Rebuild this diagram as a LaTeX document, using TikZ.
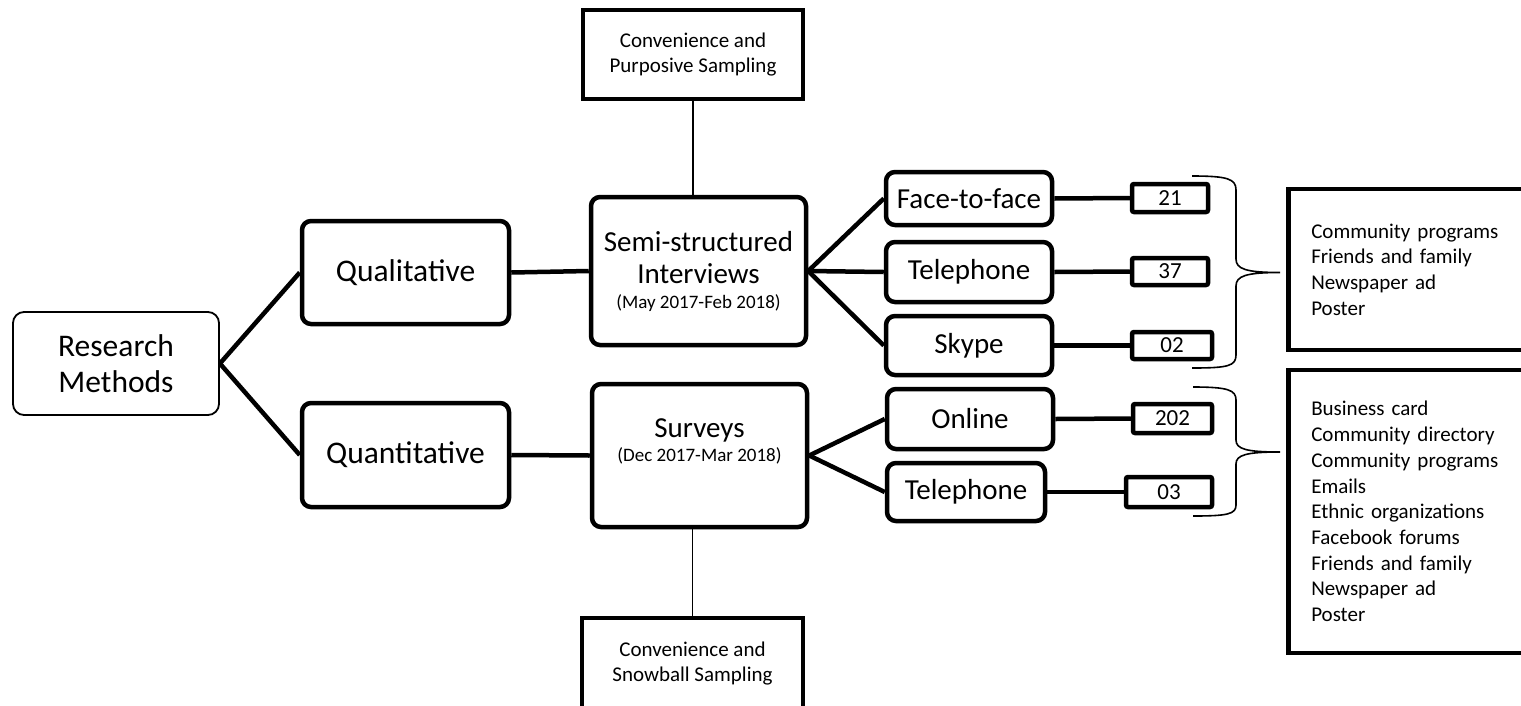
\documentclass[tikz,border=0pt]{standalone}
\usepackage{fontspec}
\setmainfont{Carlito}

\tikzset{
  mainbox/.style={draw, line width=4.5pt, rounded corners=9pt, inner sep=0pt, align=center},
  topbox/.style={draw, line width=1.8pt, rounded corners=11pt, inner sep=0pt, align=center},
  numbox/.style={draw, line width=4.5pt, rounded corners=2pt, inner sep=0pt, font=\fontsize{23}{26}\selectfont},
  sampbox/.style={draw, line width=4.5pt, inner sep=0pt, align=center, font=\fontsize{21}{25}\selectfont},
  srcbox/.style={draw, line width=4.5pt, anchor=west, inner xsep=23pt, inner ysep=0pt, text width=250pt, align=left, font=\fontsize{21}{25.7}\selectfont},
  link/.style={line width=4.5pt},
  thinlink/.style={line width=1.8pt},
  brace/.style={line width=1.6pt}
}

\begin{document}
\begin{tikzpicture}[x=1pt, y=-1pt]
  \useasboundingbox (0,0) rectangle (1521,705);
  \clip (0,0) rectangle (1521,705);

  \node[topbox, minimum width=206pt, minimum height=103pt, font=\fontsize{31.5}{36}\selectfont] (rm) at (116,363.5) {Research\\Methods};
  \node[mainbox, minimum width=207pt, minimum height=103pt, font=\fontsize{31.5}{36}\selectfont] (qual) at (405.5,272.5) {Qualitative};
  \node[mainbox, minimum width=207pt, minimum height=104pt, font=\fontsize{31.5}{36}\selectfont] (quant) at (405.5,455) {Quantitative};

  \node[mainbox, minimum width=215pt, minimum height=148pt, font=\fontsize{29}{32}\selectfont] (semi) at (698.5,271) {Semi-structured\\Interviews\\[-7pt]{\fontsize{19}{22}\selectfont (May 2017-Feb 2018)}};
  \node[mainbox, minimum width=215pt, minimum height=143pt, text depth=31pt, font=\fontsize{29}{32}\selectfont] (surv) at (699.5,455.5) {Surveys\\[-8pt]{\fontsize{19}{22}\selectfont (Dec 2017-Mar 2018)}};

  \node[sampbox, minimum width=220pt, minimum height=89pt] (purp) at (693,54.5) {Convenience and\\Purposive Sampling};
  \node[sampbox, minimum width=221pt, minimum height=92pt] (snow) at (692.5,664) {Convenience and\\Snowball Sampling};

  \node[mainbox, minimum width=166pt, minimum height=53pt, font=\fontsize{29}{32}\selectfont] (f2f) at (969,198.5) {Face-to-face};
  \node[mainbox, minimum width=166pt, minimum height=60pt, font=\fontsize{29}{32}\selectfont] (tel1) at (969,272) {Telephone};
  \node[mainbox, minimum width=166pt, minimum height=59pt, font=\fontsize{29}{32}\selectfont] (sky) at (969,345.5) {Skype};
  \node[mainbox, minimum width=166pt, minimum height=60pt, font=\fontsize{29}{32}\selectfont] (onl) at (970,419) {Online};
  \node[mainbox, minimum width=158pt, minimum height=58pt, font=\fontsize{29}{32}\selectfont] (tel2) at (966,492) {Telephone};

  \node[numbox, minimum width=76pt, minimum height=28pt] (n21) at (1170,198) {21};
  \node[numbox, minimum width=76pt, minimum height=27pt] (n37) at (1170,271.5) {37};
  \node[numbox, minimum width=80pt, minimum height=27pt] (n02) at (1172,345.5) {02};
  \node[numbox, minimum width=79pt, minimum height=29pt] (n202) at (1172.5,418.5) {202};
  \node[numbox, minimum width=86pt, minimum height=30pt] (n03) at (1169,492) {03};

  \node[srcbox, minimum height=161pt] (src1) at (1286,269.5) {Community programs\\Friends and family\\Newspaper ad\\Poster};
  \node[srcbox, minimum height=283pt] (src2) at (1286,511.5) {Business card\\Community directory\\Community programs\\Emails\\Ethnic organizations\\Facebook forums\\Friends and family\\Newspaper ad\\Poster};

  \draw[link] (rm.east) -- (qual.west);
  \draw[link] (rm.east) -- (quant.west);
  \draw[link] (qual.east) -- (semi.west);
  \draw[link] (quant.east) -- (surv.west);
  \draw[link] (semi.east) -- (f2f.west);
  \draw[link] (semi.east) -- (tel1.west);
  \draw[link] (semi.east) -- (sky.west);
  \draw[link] (surv.east) -- (onl.west);
  \draw[link] (surv.east) -- (tel2.west);
  \draw[link] (f2f.east) -- (n21.west);
  \draw[link] (tel1.east) -- (n37.west);
  \draw[link] (sky.east) -- (n02.west);
  \draw[link] (onl.east) -- (n202.west);
  \draw[link] (tel2.east) -- (n03.west);
  \draw[thinlink] (purp.south) -- (purp.south |- semi.north);
  \draw[thinlink] (snow.north |- surv.south) -- (snow.north);

  \draw[brace] (1192,176) .. controls (1228,176) and (1236,179) .. (1236,190) -- (1236,259) .. controls (1236,269) and (1246,272.5) .. (1280,272.5) .. controls (1246,272.5) and (1236,276) .. (1236,286) -- (1236,355) .. controls (1236,366) and (1228,368) .. (1192,368);
  \draw[brace] (1193,387) .. controls (1228,387) and (1236,390) .. (1236,400) -- (1236,440) .. controls (1236,449) and (1246,452) .. (1280,452) .. controls (1246,452) and (1236,455) .. (1236,464) -- (1236,505) .. controls (1236,514) and (1228,516) .. (1193,516);
\end{tikzpicture}
\end{document}
